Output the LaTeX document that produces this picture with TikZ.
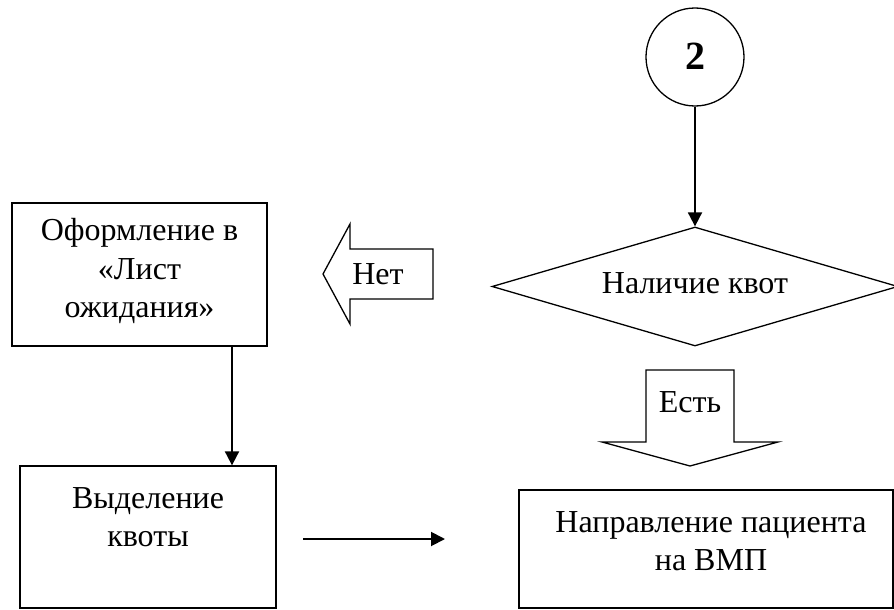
\documentclass[tikz,border=0pt]{standalone}
\usepackage{fontspec}
\setmainfont{Liberation Serif}
\usetikzlibrary{shapes.geometric,arrows.meta}
\tikzset{
    box/.style={draw, line width=1.3pt, inner sep=0pt},
    decision/.style={draw, diamond, line width=1.3pt, inner sep=0pt, minimum width=406pt, minimum height=119pt},
    circ/.style={draw, circle, line width=1.3pt, inner sep=0pt, minimum size=98pt},
    txt/.style={align=center, inner sep=0pt, font=\fontsize{32}{38.5}\selectfont},
    arr/.style={line width=1.9pt, -{Triangle[length=14pt,width=14pt]}},
    blockarr/.style={line width=1.3pt, line join=miter}
}
\begin{document}
\begin{tikzpicture}[x=1pt, y=-1pt]
    \useasboundingbox (0,0) rectangle (894,610);
    % start and decision
    \node[circ] (start) at (695,57) {};
    \node[font=\fontsize{40}{44}\selectfont\bfseries] (startnum) at (695,56) {2};
    \node[decision] (quota) at (695,286.5) {};
    \node[txt] (quotatxt) at (695,283) {Наличие квот};
    \draw[arr] (start) -- (quota);
    % boxes
    \node[box, minimum width=255pt, minimum height=143pt] (wait) at (139.5,274.5) {};
    \node[txt] (waittxt) at (139.5,271) {Оформление в\\«Лист\\ожидания»};
    \node[box, minimum width=256pt, minimum height=142pt] (alloc) at (148,537) {};
    \node[txt] (alloctxt) at (148,517) {Выделение\\квоты};
    \node[box, minimum width=374pt, minimum height=118pt] (vmp) at (706,549) {};
    \node[txt] (vmptxt) at (711,541) {Направление пациента\\на ВМП};
    % connectors
    \coordinate (drop) at (232,0);
    \draw[arr] (wait.south -| drop) -- (alloc.north -| drop);
    \coordinate (go1) at (303,539);
    \coordinate (go2) at (445,539);
    \draw[arr] (go1) -- (go2);
    % block arrows
    \draw[blockarr] (433,249) -- (350,249) -- (350,224) -- (323,274) -- (350,324) -- (350,299) -- (433,299) -- cycle;
    \node[txt] (no) at (378,274) {Нет};
    \draw[blockarr] (646,370) -- (734,370) -- (734,442) -- (778,442) -- (690,466) -- (602,442) -- (646,442) -- cycle;
    \node[txt] (yes) at (690,402) {Есть};
\end{tikzpicture}
\end{document}
